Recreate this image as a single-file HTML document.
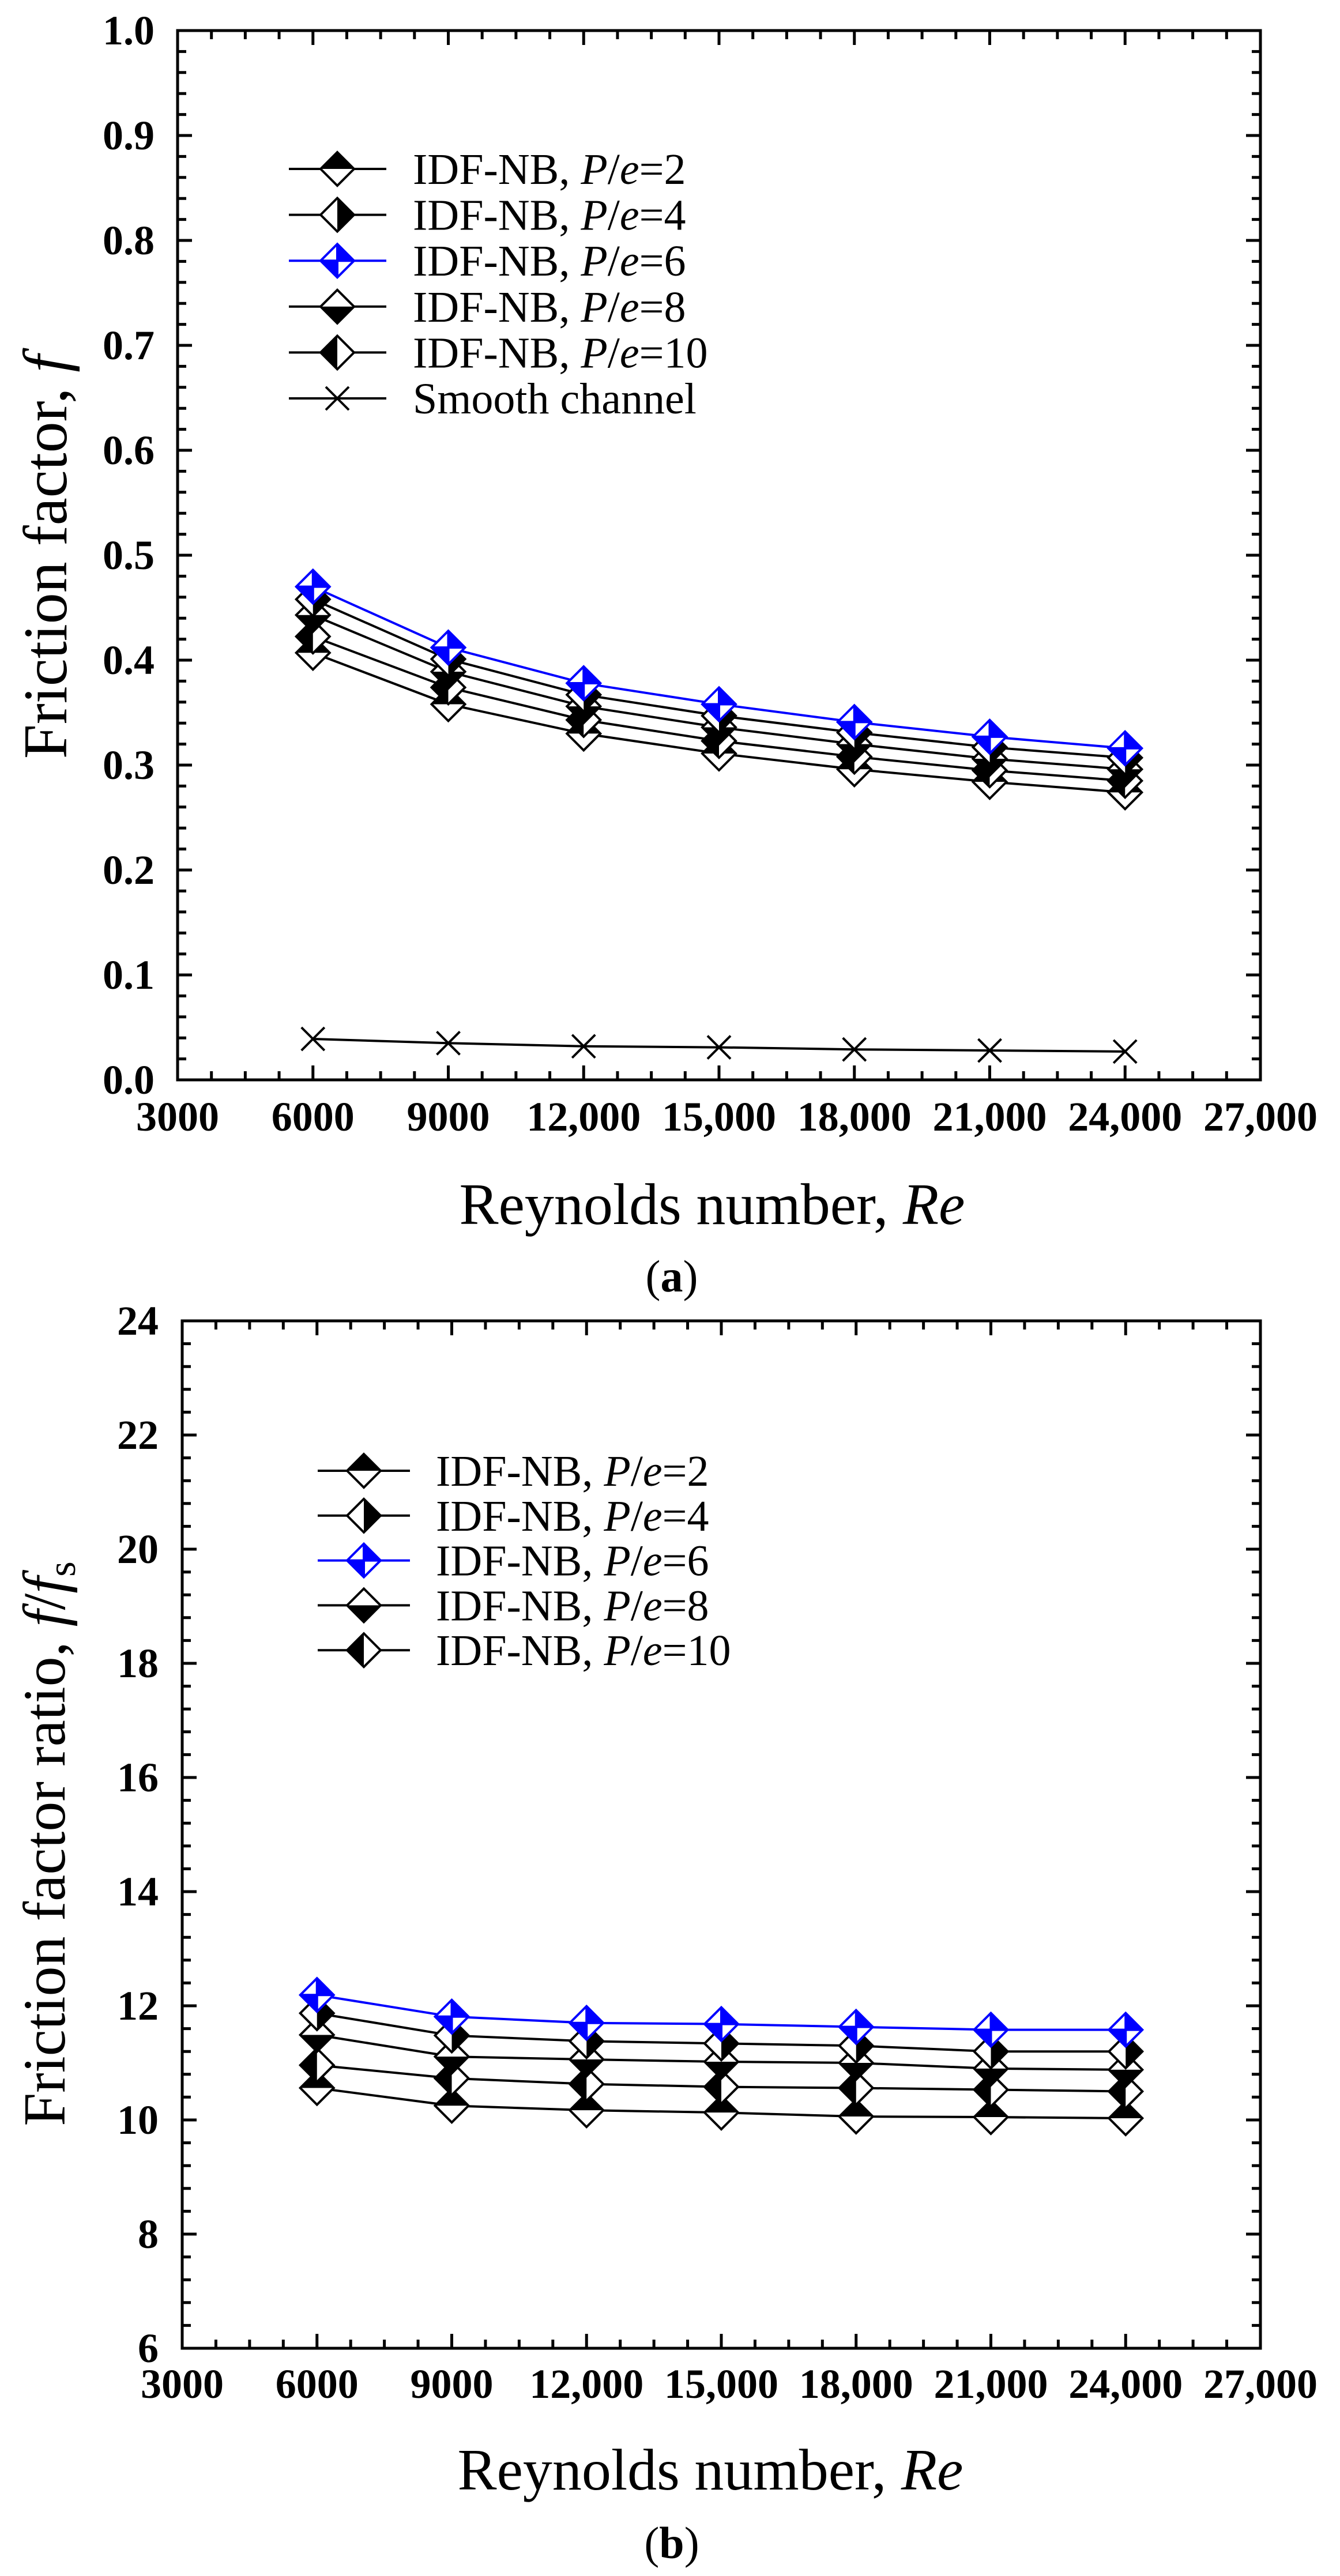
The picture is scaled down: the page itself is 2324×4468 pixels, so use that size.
<!DOCTYPE html>
<html><head><meta charset="utf-8"><style>
html,body{margin:0;padding:0;background:#fff;}
svg{display:block;font-family:"Liberation Serif","DejaVu Serif",serif;}
</style></head><body>
<svg id="fig" width="2324" height="4468" viewBox="0 0 2324 4468" xmlns="http://www.w3.org/2000/svg">
<rect width="2324" height="4468" fill="#fff"/>
<g id="chartA"></g>
<g id="chartB"></g>
<text x="1235" y="2123" font-size="102" text-anchor="middle">Reynolds number, <tspan font-style="italic">Re</tspan></text>
<text x="1165" y="2240" font-size="78" text-anchor="middle">(<tspan font-weight="bold">a</tspan>)</text>
<text transform="translate(115,966) rotate(-90)" font-size="108" text-anchor="middle">Friction factor, <tspan font-style="italic">f</tspan></text>
<text x="1232" y="4318" font-size="102" text-anchor="middle">Reynolds number, <tspan font-style="italic">Re</tspan></text>
<text x="1165" y="4437" font-size="78" text-anchor="middle">(<tspan font-weight="bold">b</tspan>)</text>
<text transform="translate(112,3198) rotate(-90)" font-size="104" text-anchor="middle">Friction factor ratio, <tspan font-style="italic">f</tspan>/<tspan font-style="italic">f</tspan><tspan font-size="68" dy="18">s</tspan></text>
</svg>
<script>
const reynolds = [6000, 9000, 12000, 15000, 18000, 21000, 24000];
const xTicks = [3000, 6000, 9000, 12000, 15000, 18000, 21000, 24000, 27000];
const xTickLabels = ["3000","6000","9000","12,000","15,000","18,000","21,000","24,000","27,000"];
// Panel (a) friction factor
const fPe2  = [0.407, 0.358, 0.330, 0.311, 0.296, 0.284, 0.274];
const fPe4  = [0.458, 0.401, 0.367, 0.347, 0.331, 0.317, 0.307];
const fPe6  = [0.470, 0.412, 0.378, 0.358, 0.341, 0.327, 0.316];
const fPe8  = [0.443, 0.389, 0.356, 0.336, 0.320, 0.306, 0.296];
const fPe10 = [0.4225, 0.374, 0.343, 0.323, 0.308, 0.295, 0.285];
const fSmooth = [0.039, 0.035, 0.032, 0.031, 0.029, 0.028, 0.027];
const yTicksA = [0.0,0.1,0.2,0.3,0.4,0.5,0.6,0.7,0.8,0.9,1.0];
const yTickLabelsA = ["0.0","0.1","0.2","0.3","0.4","0.5","0.6","0.7","0.8","0.9","1.0"];
// Panel (b) friction factor ratio
const rPe2  = [10.56, 10.25, 10.17, 10.13, 10.06, 10.05, 10.03];
const rPe4  = [11.87, 11.48, 11.38, 11.34, 11.30, 11.20, 11.20];
const rPe6  = [12.19, 11.81, 11.70, 11.68, 11.63, 11.58, 11.58];
const rPe8  = [11.49, 11.11, 11.06, 11.02, 11.00, 10.90, 10.88];
const rPe10 = [10.96, 10.73, 10.63, 10.58, 10.56, 10.53, 10.50];
const yTicksB = [6,8,10,12,14,16,18,20,22,24];
const yTickLabelsB = ["6","8","10","12","14","16","18","20","22","24"];
const legendLabels = ["2","4","6","8","10"];

const NS = "http://www.w3.org/2000/svg";
function mk(parent, tag, attrs){const e=document.createElementNS(NS,tag);for(const k in attrs)e.setAttribute(k,attrs[k]);parent.appendChild(e);return e;}

function marker(g, x, y, style, color){
  const s=29;
  const grp = mk(g,'g',{});
  
  
  if(style==='x'){
    mk(grp,'path',{d:`M${x-20},${y-20}L${x+20},${y+20}M${x-20},${y+20}L${x+20},${y-20}`,stroke:'#000','stroke-width':4,fill:'none'});
    return;
  }
  const T=[x,y-s],R=[x+s,y],B=[x,y+s],L=[x-s,y],C=[x,y];
  mk(grp,'polygon',{points:[T,R,B,L].map(p=>p.join(',')).join(' '),fill:'#fff'});
  let half=null;
  if(style==='2') half=[L,T,R];
  if(style==='4') half=[T,R,B];
  if(style==='8') half=[L,B,R];
  if(style==='10') half=[T,L,B];
  if(half) mk(grp,'polygon',{points:half.map(p=>p.join(',')).join(' '),fill:color});
  if(style==='6'){
    mk(grp,'polygon',{points:[T,R,C].map(p=>p.join(',')).join(' '),fill:color});
    mk(grp,'polygon',{points:[L,B,C].map(p=>p.join(',')).join(' '),fill:color});
    mk(grp,'path',{d:`M${x},${y-s}L${x},${y+s}M${x-s},${y}L${x+s},${y}`,stroke:color,'stroke-width':4});
  }
  mk(grp,'polygon',{points:[T,R,B,L].map(p=>p.join(',')).join(' '),fill:'none',stroke:color,'stroke-width':4,'stroke-linejoin':'miter'});
}

function chart(g, box, yMin, yMax, yTicks, yLabels, yMinorStep, series, legend){
  const X=v=>box.l+(v-3000)/(27000-3000)*(box.r-box.l);
  const Y=v=>box.b-(v-yMin)/(yMax-yMin)*(box.b-box.t);
  let d='';
  for(let v=3000; v<=27000; v+=750){
    const major=(v%3000===0), L=major?25:15, x=X(v);
    d+=`M${x},${box.b}L${x},${box.b-L}M${x},${box.t}L${x},${box.t+L}`;
  }
  const nMinor=Math.round((yMax-yMin)/yMinorStep);
  const per=Math.round((yTicks[1]-yTicks[0])/yMinorStep);
  for(let i=0;i<=nMinor;i++){
    const y=box.b-i/nMinor*(box.b-box.t), L=(i%per===0)?25:15;
    d+=`M${box.l},${y}L${box.l+L},${y}M${box.r},${y}L${box.r-L},${y}`;
  }
  const ticks=mk(g,'path',{d,stroke:'#000','stroke-width':5,fill:'none'});
  
  
  const frame=mk(g,'rect',{x:box.l,y:box.t,width:box.r-box.l,height:box.b-box.t,fill:'none',stroke:'#000','stroke-width':5});
  
  
  xTicks.forEach((v,i)=>{
    const t=mk(g,'text',{x:X(v),y:box.xl,'font-size':72,'font-weight':'bold','text-anchor':'middle'});
    t.textContent=xTickLabels[i];
    
    
  });
  yTicks.forEach((v,i)=>{
    const t=mk(g,'text',{x:box.yl,y:Y(v)+24,'font-size':72,'font-weight':'bold','text-anchor':'end'});
    t.textContent=yLabels[i];
    
    
  });
  series.forEach(s=>{
    const pl=mk(g,'polyline',{points:s.data.map((v,i)=>X(reynolds[i])+','+Y(v)).join(' '),fill:'none',stroke:s.color,'stroke-width':4});
    
    
  });
  series.forEach(s=>{
    s.data.forEach((v,i)=>marker(g,X(reynolds[i]),Y(v),s.style,s.color));
  });
  legend.items.forEach((it,i)=>{
    const y=legend.y0+i*legend.dy;
    const lg=mk(g,'g',{});
    
    
    mk(lg,'line',{x1:legend.x1,y1:y,x2:legend.x2,y2:y,stroke:it.color,'stroke-width':4});
    marker(lg,legend.mx,y,it.style,it.color);
    const t=mk(lg,'text',{x:legend.tx,y:y+26,'font-size':76});
    if(it.style==='x'){t.textContent='Smooth channel';}
    else{
      t.appendChild(document.createTextNode('IDF-NB, '));
      const p=mk(t,'tspan',{'font-style':'italic'});p.textContent='P';
      t.appendChild(document.createTextNode('/'));
      const e=mk(t,'tspan',{'font-style':'italic'});e.textContent='e';
      t.appendChild(document.createTextNode('='+it.label));
    }
  });
}

const blue='#0000ff';
const seriesA=[
  {name:'pe2',data:fPe2,style:'2',color:'#000'},
  {name:'pe10',data:fPe10,style:'10',color:'#000'},
  {name:'pe8',data:fPe8,style:'8',color:'#000'},
  {name:'pe4',data:fPe4,style:'4',color:'#000'},
  {name:'pe6',data:fPe6,style:'6',color:blue},
  {name:'smooth',data:fSmooth,style:'x',color:'#000'}
];
const seriesB=[
  {name:'pe2',data:rPe2,style:'2',color:'#000'},
  {name:'pe10',data:rPe10,style:'10',color:'#000'},
  {name:'pe8',data:rPe8,style:'8',color:'#000'},
  {name:'pe4',data:rPe4,style:'4',color:'#000'},
  {name:'pe6',data:rPe6,style:'6',color:blue}
];
const legItems=[
  {style:'2',color:'#000',label:legendLabels[0]},
  {style:'4',color:'#000',label:legendLabels[1]},
  {style:'6',color:blue,label:legendLabels[2]},
  {style:'8',color:'#000',label:legendLabels[3]},
  {style:'10',color:'#000',label:legendLabels[4]}
];
chart(document.getElementById('chartA'),{l:308,r:2186,t:53,b:1873,xl:1961,yl:268},0,1,yTicksA,yTickLabelsA,0.02,seriesA,
  {items:legItems.concat([{style:'x',color:'#000'}]),y0:293,dy:79.6,x1:501,x2:670,mx:585,tx:716});
chart(document.getElementById('chartB'),{l:316,r:2186,t:2291,b:4073,xl:4159,yl:275},6,24,yTicksB,yTickLabelsB,0.4,seriesB,
  {items:legItems,y0:2551,dy:77.8,x1:551,x2:711,mx:631,tx:756});
</script>
</body></html>
